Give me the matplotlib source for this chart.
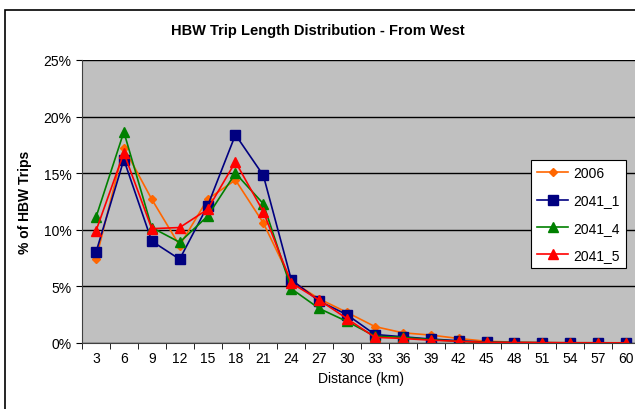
import numpy as np
import matplotlib.pyplot as plt
from matplotlib.patches import Rectangle

plt.rcParams['font.family'] = ['Liberation Sans', 'DejaVu Sans']

# Datos (% de viajes HBW por distancia)
distances = [3, 6, 9, 12, 15, 18, 21, 24, 27, 30, 33, 36, 39, 42, 45, 48, 51, 54, 57, 60]
y2006 = [7.4, 17.25, 12.7, 8.6, 12.7, 14.4, 10.6, 5.5, 3.9, 2.7, 1.45, 0.9, 0.7, 0.4, 0.15, 0.08, 0.05, 0.03, 0.02, 0.02]
y2041_1 = [8.0, 16.2, 9.0, 7.4, 12.1, 18.4, 14.8, 5.6, 3.7, 2.5, 0.75, 0.55, 0.35, 0.2, 0.07, 0.04, 0.03, 0.02, 0.02, 0.01]
y2041_4 = [11.1, 18.65, 10.2, 8.9, 11.2, 15.0, 12.3, 4.8, 3.05, 1.9, 0.6, 0.5, 0.3, 0.15, 0.05, 0.03, 0.02, 0.01, 0.01, 0.01]
y2041_5 = [9.9, 16.8, 10.1, 10.2, 11.8, 16.0, 11.6, 5.3, 3.8, 2.15, 0.5, 0.4, 0.25, 0.15, 0.05, 0.03, 0.02, 0.01, 0.01, 0.01]

series = [
    ('2006', y2006, '#FF6600', 'D', 4.5),
    ('2041_1', y2041_1, '#000080', 's', 6.5),
    ('2041_4', y2041_4, '#008000', '^', 6.5),
    ('2041_5', y2041_5, '#FF0000', '^', 6.5),
]

fig = plt.figure(figsize=(6.35, 4.10), dpi=100)
fig.patches.append(Rectangle((5 / 635, -0.1), 1.2, 1.1 - 11 / 410,
                             transform=fig.transFigure, fill=False,
                             edgecolor='black', linewidth=1.2))
ax = fig.add_axes([82 / 635, 1 - 344 / 410, 558 / 635, 283 / 410])
ax.set_facecolor('#C0C0C0')

x = np.arange(1, len(distances) + 1)
for name, vals, color, marker, ms in series:
    ax.plot(x, vals, color=color, marker=marker, markersize=ms, linewidth=1.2,
            label=name, markeredgecolor=color)

ax.set_xlim(0.5, len(distances) + 0.5)
ax.set_ylim(0, 25)
ax.set_yticks(np.arange(0, 26, 5))
ax.set_yticklabels([f'{v}%' for v in range(0, 26, 5)], fontsize=10)
ax.set_xticks(x)
ax.set_xticklabels([str(d) for d in distances], fontsize=10)
ax.set_xticks(np.arange(0.5, len(distances) + 1, 1), minor=True)
ax.tick_params(axis='x', which='major', length=0, pad=6)
ax.tick_params(axis='x', which='minor', length=4, direction='out')
ax.tick_params(axis='y', length=4, direction='out')
ax.grid(axis='y', color='black', linewidth=1)
ax.set_axisbelow(True)
for s in ['top', 'right']:
    ax.spines[s].set_visible(False)
ax.spines['left'].set_color('#404040')
ax.spines['bottom'].set_color('#404040')

ax.set_xlabel('Distance (km)', fontsize=10)
ax.set_ylabel('% of HBW Trips', fontsize=10, fontweight='bold', labelpad=8)
fig.text(0.5, 1 - 31 / 410, 'HBW Trip Length Distribution - From West',
         ha='center', va='center', fontsize=10.5, fontweight='bold')

leg = ax.legend(loc='upper left', bbox_to_anchor=((531 - 82) / 558, 1 - (161 - 61) / 283),
                fancybox=False, edgecolor='black', fontsize=10, framealpha=1,
                borderpad=0.45, labelspacing=0.95, handlelength=2.2,
                handletextpad=0.4, borderaxespad=0)
leg.get_frame().set_linewidth(0.8)

plt.savefig('out.png', dpi=100)
